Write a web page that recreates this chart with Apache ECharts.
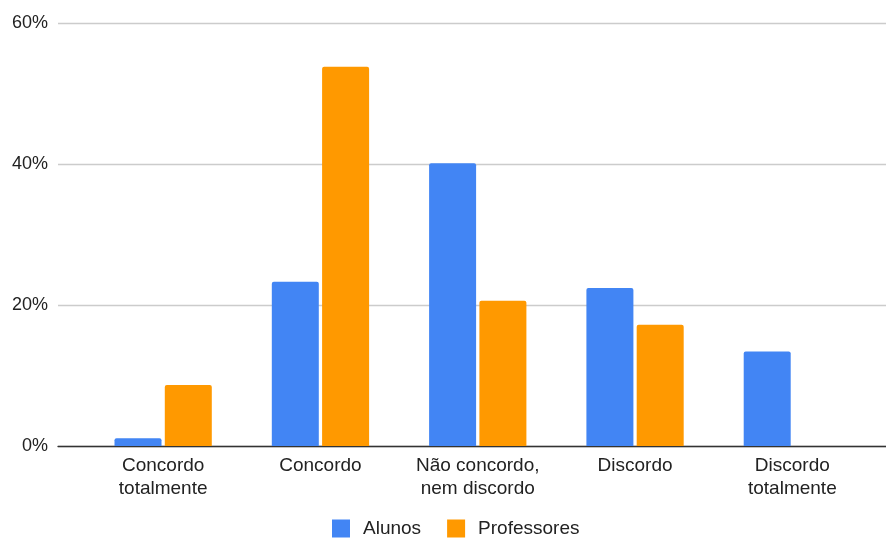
<!DOCTYPE html>
<html>
<head>
<meta charset="utf-8">
<script src="https://cdn.jsdelivr.net/npm/echarts@6/dist/echarts.min.js"></script>
<style>
  html, body { margin: 0; padding: 0; background: #fff; }
  #chart { width: 886px; height: 538px; }
</style>
</head>
<body>
<div id="chart"></div>
<script>
// Survey answers, share of respondents (%)
const categories = ['Concordo\ntotalmente', 'Concordo', 'Não concordo,\nnem discordo', 'Discordo', 'Discordo\ntotalmente'];
const alunos = [1.1, 23.3, 40.1, 22.4, 13.4];
const professores = [8.65, 53.8, 20.6, 17.2, 0];
const yTicks = [0, 20, 40, 60];

const font = 'Liberation Sans, Arial, sans-serif';
const textColor = '#222222';

const chart = echarts.init(document.getElementById('chart'), null, { renderer: 'canvas' });

chart.setOption({
  animation: false,
  textStyle: { fontFamily: font },
  grid: [
    // full-width frame: gridlines, y labels, baseline
    { left: 58, right: 0, top: 23, bottom: 92 },
    // bar area
    { left: 84.5, right: 15, top: 23, bottom: 92 }
  ],
  xAxis: [
    {
      gridIndex: 0, type: 'category', data: categories,
      axisLine: { show: true, lineStyle: { color: '#333333', width: 1.3 } },
      axisTick: { show: false }, axisLabel: { show: false }
    },
    {
      gridIndex: 1, type: 'category', data: categories,
      axisLine: { show: false }, axisTick: { show: false },
      axisLabel: {
        color: textColor, fontSize: 19, lineHeight: 22.5, margin: 9,
        fontFamily: font, interval: 0
      }
    }
  ],
  yAxis: [
    {
      gridIndex: 0, type: 'value', min: yTicks[0], max: yTicks[yTicks.length - 1], interval: 20,
      axisLine: { show: false }, axisTick: { show: false },
      axisLabel: { color: textColor, fontSize: 18, margin: 10, fontFamily: font, formatter: '{value}%' },
      splitLine: { lineStyle: { color: '#cccccc', width: 1.3 } }
    },
    {
      gridIndex: 1, type: 'value', min: yTicks[0], max: yTicks[yTicks.length - 1], interval: 20,
      show: false, splitLine: { show: false }
    }
  ],
  legend: {
    left: 332, top: 519, padding: 0,
    itemWidth: 18, itemHeight: 18, itemGap: 26,
    icon: 'rect',
    textStyle: { color: textColor, fontSize: 19, fontFamily: font, padding: [0, 0, 0, 8] },
    data: ['Alunos', 'Professores']
  },
  series: [
    {
      name: 'Alunos', type: 'bar', xAxisIndex: 1, yAxisIndex: 1,
      data: alunos, barWidth: 47, barGap: '7%',
      itemStyle: { color: '#4285F4', borderRadius: [2, 2, 0, 0] }
    },
    {
      name: 'Professores', type: 'bar', xAxisIndex: 1, yAxisIndex: 1,
      data: professores, barWidth: 47, barGap: '7%',
      itemStyle: { color: '#FF9900', borderRadius: [2, 2, 0, 0] }
    }
  ]
});
</script>
</body>
</html>
